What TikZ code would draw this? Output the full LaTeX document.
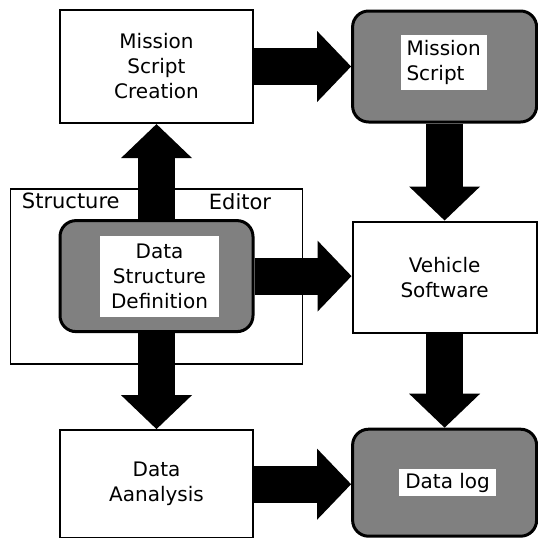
\documentclass[tikz,border=0pt]{standalone}
\usepackage{fontspec}
\setmainfont{DejaVu Sans}
\usetikzlibrary{arrows.meta,positioning}

\begin{document}
\begin{tikzpicture}[x=1pt, y=-1pt,
  font=\fontsize{20}{25}\selectfont,
  box/.style={rectangle, draw, line width=2.2pt, minimum width=193pt, minimum height=113pt, align=center},
  rbox/.style={rectangle, draw, rounded corners=16pt, line width=3pt, fill=black!50, minimum width=184pt, minimum height=111pt},
  patch/.style={fill=white, inner xsep=6pt, inner ysep=5pt},
  fat/.style={line width=37pt, -{Triangle[length=34pt, width=71pt, line width=0pt]}}]
\useasboundingbox (0,0) rectangle (538,538);
\node[box] (msc) at (156.5,66.5) {Mission\\Script\\Creation};
\node[rbox, right=97pt of msc] (ms) {};
\node[patch, align=left] (mslbl) at ([xshift=-1pt, yshift=4pt]ms.center) {Mission\\Script};
\node[box, minimum width=184pt, minimum height=111pt, below=97pt of ms] (vs) {Vehicle\\Software};
\node[rbox, minimum height=107pt, below=94pt of vs] (dl) {};
\node[patch, inner ysep=4pt] (dllbl) at ([xshift=3pt]dl.center) {Data log};
% editor frame goes under the definition box
\node[draw, line width=1.5pt, minimum width=292pt, minimum height=175pt, below=64pt of msc] (editor) {};
\node[anchor=north west, inner sep=0pt, font=\fontsize{21}{25}\selectfont] (edlbla) at ([xshift=12pt, yshift=-5pt]editor.north west) {Structure};
\node[anchor=north east, inner sep=0pt, font=\fontsize{21}{25}\selectfont] (edlblb) at ([xshift=-32pt, yshift=-5pt]editor.north east) {Editor};
\node[rbox, minimum width=193pt, below=95pt of msc] (dsd) {};
\node[patch, align=center, inner xsep=11pt, inner ysep=8pt] (dsdlbl) at ([xshift=3pt]dsd.center) {Data\\Structure\\Definition};
\node[box, minimum height=108pt, below=96pt of dsd] (da) {Data\\Aanalysis};
% block arrows
\draw[fat] (msc.east) -- (msc.east -| ms.west);
\draw[fat] (ms.south) -- (vs.north);
\draw[fat] (dsd.north) -- (dsd.north |- msc.south);
\draw[fat] (dsd.east) -- (dsd.east -| vs.west);
\draw[fat] (dsd.south) -- (dsd.south |- da.north);
\draw[fat] (vs.south) -- (dl.north);
\draw[fat] (da.east) -- (da.east -| dl.west);
\end{tikzpicture}
\end{document}
